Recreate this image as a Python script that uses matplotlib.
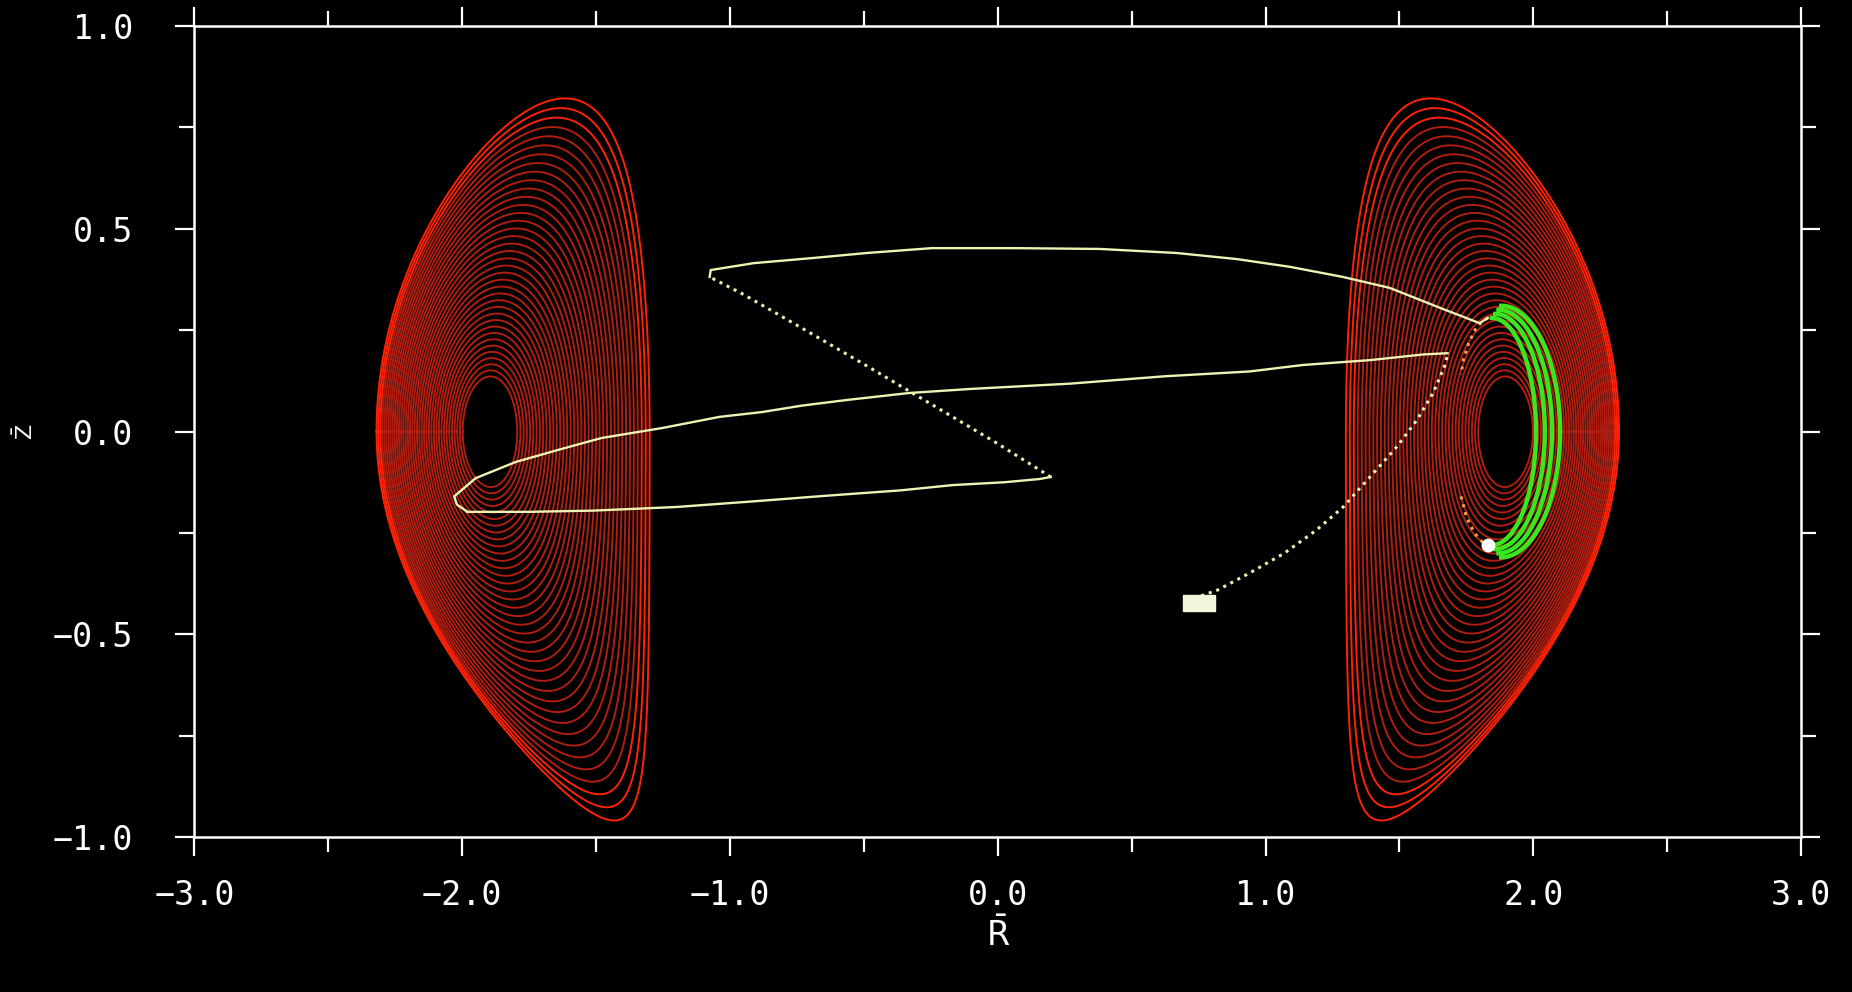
import matplotlib
matplotlib.use("Agg")
import matplotlib.pyplot as plt
import numpy as np
from matplotlib.patches import Rectangle
from matplotlib.ticker import FixedLocator, FixedFormatter, MultipleLocator

# flux surface shape (right-hand cross section; left one is its mirror image)
axis_R = 1.90          # magnetic axis
geo_R = 1.81           # geometric centre of the boundary
edge_a = 0.51          # minor radius of the boundary
kappa_core = 1.32
kappa_up_edge = 1.61
kappa_lo_edge = 1.88
delta_up_edge = 0.38
delta_lo_edge = 0.74
rho_levels = np.linspace(0.2, 1.0, 38)

# beam / particle path, drawn leg by leg
rise_R = [0.76, 0.82, 0.94, 1.07, 1.19, 1.29, 1.39, 1.49, 1.565, 1.626, 1.668, 1.68]
rise_Z = [-0.405, -0.391, -0.349, -0.300, -0.243, -0.186, -0.112, -0.038, 0.028, 0.095, 0.160, 0.190]

mid_R = [1.68, 1.59, 1.39, 1.14, 0.94, 0.62, 0.27, -0.10, -0.33, -0.56, -0.73, -0.88,
         -1.04, -1.25, -1.48, -1.64, -1.80, -1.95, -2.03, -2.02, -1.98]
mid_Z = [0.193, 0.190, 0.176, 0.164, 0.148, 0.136, 0.118, 0.105, 0.095, 0.078, 0.064, 0.048,
         0.036, 0.009, -0.016, -0.045, -0.075, -0.115, -0.160, -0.180, -0.198]

low_R = [-1.98, -1.755, -1.513, -1.20, -0.91, -0.635, -0.362, -0.168, 0.026, 0.157, 0.198]
low_Z = [-0.198, -0.198, -0.195, -0.186, -0.172, -0.158, -0.145, -0.132, -0.125, -0.117, -0.112]

diag_R = [0.198, 0.0, -0.25, -0.5, -0.75, -0.95, -1.076]
diag_Z = [-0.112, -0.030, 0.068, 0.166, 0.262, 0.338, 0.381]

top_R = [-1.076, -1.072, -0.911, -0.684, -0.489, -0.246, 0.06, 0.381, 0.668, 0.893,
         1.09, 1.289, 1.464, 1.651, 1.80, 1.83]
top_Z = [0.381, 0.398, 0.415, 0.428, 0.440, 0.452, 0.452, 0.450, 0.440, 0.425,
         0.406, 0.381, 0.354, 0.305, 0.267, 0.280]

# trapped orbit near the axis: centre R, half width, half height of each trace
orbit_R = [1.88, 1.87, 1.858, 1.845]
orbit_b = [0.22, 0.20, 0.185, 0.165]
orbit_h = [0.31, 0.30, 0.29, 0.28]

tip_up_R = [1.83, 1.79, 1.76, 1.74, 1.73]
tip_up_Z = [0.28, 0.26, 0.22, 0.18, 0.14]
tip_lo_R = [1.73, 1.75, 1.78, 1.82]
tip_lo_Z = [-0.16, -0.21, -0.25, -0.28]

start_box = [0.69, -0.442, 0.12, 0.04]   # R0, Z0, width, height
end_point = [1.83, -0.28]

x_ticks = [-3.0, -2.0, -1.0, 0.0, 1.0, 2.0, 3.0]
x_labels = ["\u22123.0", "\u22122.0", "\u22121.0", "0.0", "1.0", "2.0", "3.0"]
y_ticks = [-1.0, -0.5, 0.0, 0.5, 1.0]
y_labels = ["\u22121.0", "\u22120.5", "0.0", "0.5", "1.0"]

fig = plt.figure(figsize=(18.52, 9.92), dpi=100, facecolor="black")
ax = fig.add_axes([0.105, 0.156, 0.8675, 0.818])
ax.set_facecolor("black")

# nested surfaces
th = np.linspace(0, 2 * np.pi, 721)
up = np.sin(th) >= 0
for rho in rho_levels:
    a = edge_a * rho
    rc = geo_R + (axis_R - geo_R) * (1 - rho ** 2)
    k = np.where(up, kappa_core + (kappa_up_edge - kappa_core) * rho ** 2,
                 kappa_core + (kappa_lo_edge - kappa_core) * rho ** 2)
    d = np.where(up, delta_up_edge * rho ** 2, delta_lo_edge * rho ** 2)
    R = rc + a * np.cos(th + np.arcsin(d) * np.sin(th))
    Z = k * a * np.sin(th)
    col = "#ff2206" if rho > 0.95 else "#b01e12"
    ax.plot(R, Z, color=col, lw=1.4)
    ax.plot(-R, Z, color=col, lw=1.4)

# trapped orbit
phi = np.linspace(-np.pi / 2, np.pi / 2, 200)
for rc, b, h in zip(orbit_R, orbit_b, orbit_h):
    ax.plot(rc + b * np.cos(phi), h * np.sin(phi), color="#38e81c", lw=3.2)
ax.plot(tip_up_R, tip_up_Z, color="#f2a24a", lw=2.2, ls=":")
ax.plot(tip_lo_R, tip_lo_Z, color="#f2a24a", lw=2.2, ls=":")

# path
yel = "#eef3b4"
ax.plot(rise_R, rise_Z, color=yel, lw=2.2, ls=(0, (1, 1.6)))
ax.plot(mid_R, mid_Z, color=yel, lw=1.7)
ax.plot(low_R, low_Z, color=yel, lw=1.7)
ax.plot(diag_R, diag_Z, color=yel, lw=2.2, ls=(0, (1, 1.6)))
ax.plot(top_R, top_Z, color=yel, lw=1.7)

ax.add_patch(Rectangle(start_box[:2], start_box[2], start_box[3], color="#f4f6dc", zorder=5))
ax.plot([end_point[0]], [end_point[1]], "o", color="white", ms=9, zorder=5)

ax.set_xlim(-3, 3)
ax.set_ylim(-1, 1)

mono = "DejaVu Sans Mono"
ax.xaxis.set_major_locator(FixedLocator(x_ticks))
ax.xaxis.set_major_formatter(FixedFormatter(x_labels))
ax.yaxis.set_major_locator(FixedLocator(y_ticks))
ax.yaxis.set_major_formatter(FixedFormatter(y_labels))
ax.xaxis.set_minor_locator(MultipleLocator(0.5))
ax.yaxis.set_minor_locator(MultipleLocator(0.25))
ax.tick_params(which="both", direction="out", colors="white", top=True, right=True,
               labeltop=False, labelright=False)
ax.tick_params(which="major", length=14, width=1.6, labelsize=24, pad=16)
ax.tick_params(axis="y", which="major", pad=30)
ax.tick_params(which="minor", length=11, width=1.6)
for lab in ax.get_xticklabels() + ax.get_yticklabels():
    lab.set_family(mono)
    lab.set_color("white")
for s in ax.spines.values():
    s.set_color("white")
    s.set_linewidth(1.8)

ax.set_xlabel(r"$\bar{\mathrm{R}}$", color="white", fontsize=24, labelpad=4)
ax.set_ylabel(r"$\bar{\mathrm{Z}}$", color="white", fontsize=16)
ax.yaxis.set_label_coords(-0.098, 0.5)

fig.savefig("out.png", dpi=100, facecolor="black")
